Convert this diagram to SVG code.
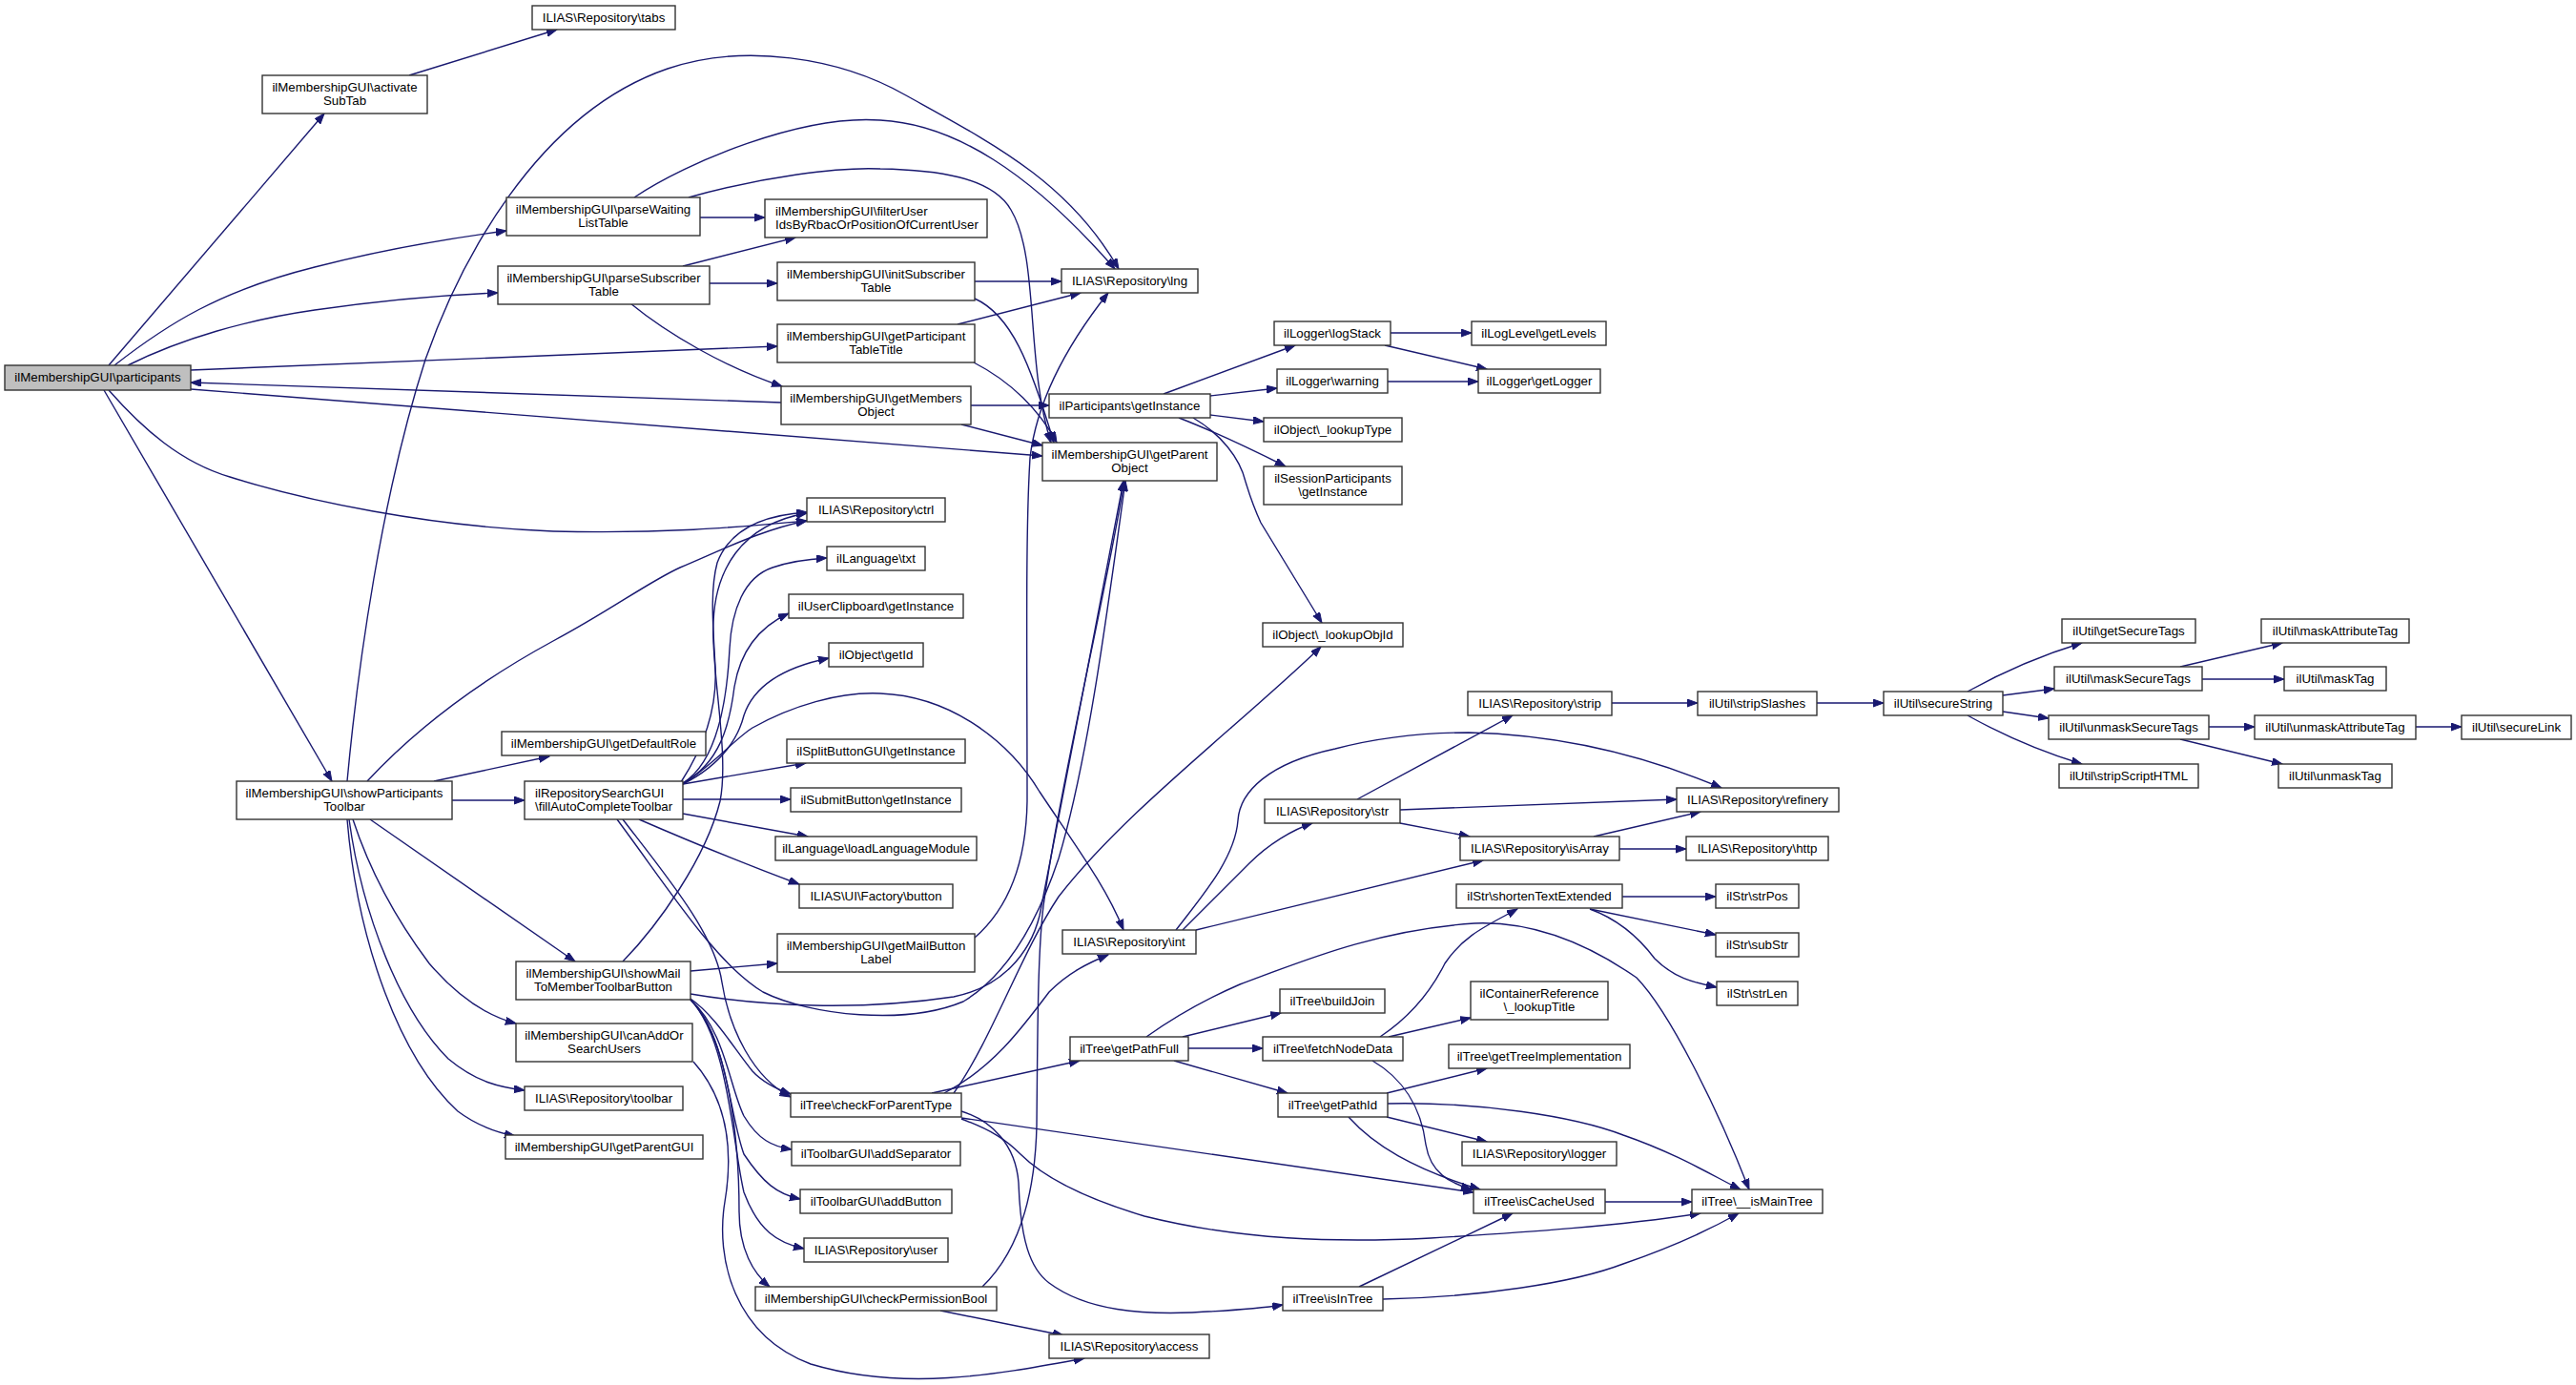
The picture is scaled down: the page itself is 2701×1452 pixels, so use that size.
<svg xmlns="http://www.w3.org/2000/svg" width="2701" height="1452" viewBox="0 0 2701 1452">
<style>
.n rect{fill:#ffffff;stroke:#333333;stroke-width:1.4}
.n.root rect{fill:#bfbfbf}
.n text{font-family:"Liberation Sans",Arial,sans-serif;font-size:13.3px;fill:#000000;text-anchor:middle}
.n text.l{text-anchor:start}
#edges path{fill:none;stroke:#191970;stroke-width:1.4;marker-end:url(#arr)}
</style>
<defs>
<marker id="arr" markerUnits="userSpaceOnUse" markerWidth="12" markerHeight="9" refX="11" refY="4" orient="auto">
<path d="M0,0 L11,4 L0,8 z" fill="#191970" stroke="#191970" stroke-width="1"/>
</marker>
</defs>
<rect x="0" y="0" width="2701" height="1452" fill="#ffffff"/>
<g id="edges">
<path d="M114,383 L340,119"/>
<path d="M429,79 L584,31"/>
<path d="M120,383 C175,340 230,305 330,280 C400,262 470,250 531,242"/>
<path d="M134,383 C190,355 260,335 330,325 C400,315 470,309 522,307"/>
<path d="M200,388 L815,363"/>
<path d="M819,422 L200,401"/>
<path d="M200,408 L1093,478"/>
<path d="M114,409 C150,450 190,485 241,500 C320,525 450,552 580,557 C700,560 780,552 846,546"/>
<path d="M109,409 L348,819"/>
<path d="M364,819 C375,700 400,520 446,377 C480,280 560,120 700,72 C780,45 880,60 950,100 C1040,150 1120,190 1173,282"/>
<path d="M665,207 C720,170 840,120 923,126 C1000,130 1080,180 1169,282"/>
<path d="M734,228 L802,228"/>
<path d="M722,207 C800,185 880,175 923,177 C980,178 1040,185 1060,220 C1090,270 1075,380 1102,464"/>
<path d="M716,279 L834,249"/>
<path d="M744,297 L815,297"/>
<path d="M661,318 C700,350 760,385 820,405"/>
<path d="M1022,295 L1113,295"/>
<path d="M1022,313 C1060,330 1080,380 1105,464"/>
<path d="M1004,340 L1133,307"/>
<path d="M1021,380 C1060,400 1090,430 1108,464"/>
<path d="M1018,425 L1100,425"/>
<path d="M1008,445 L1093,467"/>
<path d="M1220,413 L1358,362"/>
<path d="M1269,415 L1339,407"/>
<path d="M1269,435 L1325,442"/>
<path d="M1236,438 C1280,455 1320,475 1348,489"/>
<path d="M1251,438 C1280,455 1300,480 1306,505 C1312,525 1316,535 1322,548 L1386,653"/>
<path d="M1458,349 L1543,349"/>
<path d="M1452,362 L1559,387"/>
<path d="M1455,400 L1550,400"/>
<path d="M455,819 L576,793"/>
<path d="M474,839 L550,839"/>
<path d="M385,819 C440,760 510,710 580,672 C640,640 680,610 713,595 C760,575 800,555 846,546"/>
<path d="M388,859 L603,1008"/>
<path d="M370,859 C390,920 420,970 450,1010 C480,1045 510,1065 541,1073"/>
<path d="M366,859 C380,960 420,1060 470,1110 C500,1135 525,1140 550,1143"/>
<path d="M364,859 C375,990 420,1110 480,1165 C500,1180 520,1187 540,1191"/>
<path d="M714,820 C740,780 752,740 750,700 C748,660 744,620 752,590 C765,555 800,540 846,537"/>
<path d="M653,1008 C690,970 740,900 755,840 C765,790 745,700 748,652 C750,600 775,550 846,538"/>
<path d="M716,821 C750,800 762,740 765,680 C767,640 780,605 810,595 C830,588 850,586 867,585"/>
<path d="M716,821 C755,800 765,760 770,720 C775,690 790,660 827,643"/>
<path d="M716,822 C760,800 775,770 780,750 C790,720 820,700 869,690"/>
<path d="M716,822 C750,800 770,775 789,763 C830,740 880,725 923,727 C1000,730 1060,780 1090,830 C1130,890 1160,930 1178,975"/>
<path d="M716,822 L845,800"/>
<path d="M716,838 L829,838"/>
<path d="M716,853 L847,877"/>
<path d="M670,859 C700,872 760,898 838,927"/>
<path d="M647,859 C700,930 750,1010 800,1040 C850,1065 950,1075 1010,1050 C1060,1020 1090,960 1110,900 C1140,800 1160,650 1180,504"/>
<path d="M653,859 C700,920 750,980 757,1030 C765,1080 790,1130 829,1150"/>
<path d="M724,1018 L815,1010"/>
<path d="M724,1042 C800,1055 900,1060 1000,1045 C1050,1035 1080,1000 1090,960 C1110,860 1150,650 1178,504"/>
<path d="M724,1047 C750,1065 770,1100 789,1123 C800,1135 815,1142 829,1147"/>
<path d="M724,1048 C760,1080 765,1140 780,1170 C795,1195 810,1202 830,1205"/>
<path d="M724,1048 C762,1085 765,1170 780,1210 C800,1240 815,1252 839,1257"/>
<path d="M724,1048 C764,1090 768,1200 780,1250 C795,1290 815,1303 843,1309"/>
<path d="M724,1048 C765,1090 775,1200 775,1270 C775,1310 790,1335 807,1349"/>
<path d="M727,1113 C760,1150 770,1200 760,1260 C750,1320 770,1400 850,1430 C950,1460 1050,1440 1137,1424"/>
<path d="M1030,1349 C1060,1320 1085,1270 1087,1180 C1088,1080 1088,1000 1094,950 C1110,830 1160,620 1179,504"/>
<path d="M986,1374 L1115,1400"/>
<path d="M1022,983 C1060,950 1076,900 1077,840 C1077,700 1075,560 1080,480 C1087,420 1120,360 1162,307"/>
<path d="M1000,1146 C1040,1090 1070,1000 1110,940 C1180,850 1300,760 1385,678"/>
<path d="M977,1146 L1132,1112"/>
<path d="M990,1146 C1040,1120 1070,1080 1100,1040 C1120,1020 1140,1010 1162,1001"/>
<path d="M1008,1172 L1545,1250"/>
<path d="M1008,1173 C1040,1185 1055,1195 1070,1210 C1100,1240 1150,1260 1200,1275 C1300,1300 1400,1303 1500,1298 C1600,1292 1700,1285 1783,1272"/>
<path d="M1008,1165 C1040,1175 1065,1200 1068,1240 C1070,1300 1080,1330 1100,1345 C1140,1375 1200,1378 1250,1376 C1290,1374 1320,1372 1345,1368"/>
<path d="M1240,1087 L1343,1062"/>
<path d="M1246,1099 L1324,1099"/>
<path d="M1231,1112 L1350,1146"/>
<path d="M1202,1087 C1240,1060 1270,1045 1300,1032 C1360,1010 1440,975 1546,968 C1620,965 1680,1000 1716,1025 C1750,1060 1800,1160 1834,1247"/>
<path d="M1447,1087 C1480,1065 1500,1040 1515,1010 C1535,980 1560,970 1591,953"/>
<path d="M1456,1087 L1542,1067"/>
<path d="M1439,1112 C1470,1130 1490,1160 1495,1200 C1500,1230 1520,1240 1543,1247"/>
<path d="M1454,1146 L1559,1120"/>
<path d="M1455,1157 C1550,1155 1650,1170 1702,1190 C1760,1210 1800,1235 1825,1247"/>
<path d="M1454,1171 L1559,1197"/>
<path d="M1414,1171 C1440,1200 1480,1225 1552,1247"/>
<path d="M1683,1260 L1774,1260"/>
<path d="M1425,1349 L1586,1272"/>
<path d="M1450,1362 C1550,1360 1650,1345 1702,1325 C1760,1305 1800,1285 1823,1272"/>
<path d="M1701,940 L1799,940"/>
<path d="M1667,953 L1799,980"/>
<path d="M1667,953 C1700,965 1720,985 1735,1005 C1755,1025 1775,1030 1800,1035"/>
<path d="M1240,975 C1260,955 1290,925 1310,905 C1330,885 1355,870 1376,863"/>
<path d="M1233,975 C1260,940 1295,900 1298,860 C1300,830 1330,800 1400,785 C1450,772 1500,768 1540,768 C1630,770 1720,790 1805,826"/>
<path d="M1254,975 L1555,902"/>
<path d="M1423,838 L1586,750"/>
<path d="M1468,849 L1758,838"/>
<path d="M1468,863 L1541,877"/>
<path d="M1671,877 L1783,851"/>
<path d="M1698,890 L1768,890"/>
<path d="M1690,737 L1780,737"/>
<path d="M1905,737 L1975,737"/>
<path d="M2063,725 C2090,710 2130,690 2183,674"/>
<path d="M2100,729 L2154,722"/>
<path d="M2100,746 L2148,753"/>
<path d="M2063,750 C2090,765 2130,785 2183,801"/>
<path d="M2286,699 L2393,674"/>
<path d="M2309,712 L2395,712"/>
<path d="M2316,762 L2364,762"/>
<path d="M2286,775 L2393,801"/>
<path d="M2533,762 L2581,762"/>
</g>
<g id="participants" class="n root"><rect x="5" y="383" width="195" height="26"/><text x="102.5" y="400">ilMembershipGUI\participants</text></g>
<g id="activateSubTab" class="n"><rect x="275" y="79" width="173" height="40"/><text x="361.5" y="96">ilMembershipGUI\activate</text><text x="361.5" y="110">SubTab</text></g>
<g id="tabs" class="n"><rect x="558" y="6" width="150" height="25"/><text x="633" y="23">ILIAS\Repository\tabs</text></g>
<g id="parseWaitingListTable" class="n"><rect x="531" y="207" width="203" height="40"/><text x="632.5" y="224">ilMembershipGUI\parseWaiting</text><text x="632.5" y="238">ListTable</text></g>
<g id="parseSubscriberTable" class="n"><rect x="522" y="279" width="222" height="40"/><text x="633" y="296">ilMembershipGUI\parseSubscriber</text><text x="633" y="310">Table</text></g>
<g id="filterUser" class="n"><rect x="802" y="209" width="233" height="40"/><text class="l" x="813" y="226">ilMembershipGUI\filterUser</text><text class="l" x="813" y="240">IdsByRbacOrPositionOfCurrentUser</text></g>
<g id="initSubscriberTable" class="n"><rect x="815" y="275" width="207" height="40"/><text x="918.5" y="292">ilMembershipGUI\initSubscriber</text><text x="918.5" y="306">Table</text></g>
<g id="lng" class="n"><rect x="1113" y="282" width="143" height="25"/><text x="1184.5" y="299">ILIAS\Repository\lng</text></g>
<g id="getParticipantTableTitle" class="n"><rect x="815" y="340" width="207" height="40"/><text x="918.5" y="357">ilMembershipGUI\getParticipant</text><text x="918.5" y="371">TableTitle</text></g>
<g id="getMembersObject" class="n"><rect x="819" y="405" width="199" height="40"/><text x="918.5" y="422">ilMembershipGUI\getMembers</text><text x="918.5" y="436">Object</text></g>
<g id="participantsGetInstance" class="n"><rect x="1100" y="413" width="169" height="25"/><text x="1184.5" y="430">ilParticipants\getInstance</text></g>
<g id="getParentObject" class="n"><rect x="1093" y="464" width="183" height="40"/><text x="1184.5" y="481">ilMembershipGUI\getParent</text><text x="1184.5" y="495">Object</text></g>
<g id="logStack" class="n"><rect x="1336" y="337" width="122" height="25"/><text x="1397" y="354">ilLogger\logStack</text></g>
<g id="warning" class="n"><rect x="1339" y="387" width="116" height="25"/><text x="1397" y="404">ilLogger\warning</text></g>
<g id="lookupType" class="n"><rect x="1325" y="438" width="145" height="25"/><text x="1397.5" y="455">ilObject\_lookupType</text></g>
<g id="sessionParticipants" class="n"><rect x="1325" y="489" width="145" height="40"/><text x="1397.5" y="506">ilSessionParticipants</text><text x="1397.5" y="520">\getInstance</text></g>
<g id="getLevels" class="n"><rect x="1543" y="337" width="141" height="25"/><text x="1613.5" y="354">ilLogLevel\getLevels</text></g>
<g id="getLogger" class="n"><rect x="1550" y="387" width="128" height="25"/><text x="1614" y="404">ilLogger\getLogger</text></g>
<g id="lookupObjId" class="n"><rect x="1324" y="653" width="147" height="25"/><text x="1397.5" y="670">ilObject\_lookupObjId</text></g>
<g id="ctrl" class="n"><rect x="846" y="522" width="145" height="25"/><text x="918.5" y="539">ILIAS\Repository\ctrl</text></g>
<g id="txt" class="n"><rect x="867" y="573" width="103" height="25"/><text x="918.5" y="590">ilLanguage\txt</text></g>
<g id="userClipboard" class="n"><rect x="827" y="623" width="183" height="25"/><text x="918.5" y="640">ilUserClipboard\getInstance</text></g>
<g id="getId" class="n"><rect x="869" y="674" width="99" height="25"/><text x="918.5" y="691">ilObject\getId</text></g>
<g id="getDefaultRole" class="n"><rect x="526" y="767" width="214" height="25"/><text x="633" y="784">ilMembershipGUI\getDefaultRole</text></g>
<g id="showParticipantsToolbar" class="n"><rect x="248" y="819" width="226" height="40"/><text x="361" y="836">ilMembershipGUI\showParticipants</text><text x="361" y="850">Toolbar</text></g>
<g id="fillAutoCompleteToolbar" class="n"><rect x="550" y="819" width="166" height="40"/><text class="l" x="561" y="836">ilRepositorySearchGUI</text><text class="l" x="561" y="850">\fillAutoCompleteToolbar</text></g>
<g id="splitButton" class="n"><rect x="825" y="775" width="187" height="25"/><text x="918.5" y="792">ilSplitButtonGUI\getInstance</text></g>
<g id="submitButton" class="n"><rect x="829" y="826" width="179" height="25"/><text x="918.5" y="843">ilSubmitButton\getInstance</text></g>
<g id="loadLanguageModule" class="n"><rect x="813" y="877" width="211" height="25"/><text x="918.5" y="894">ilLanguage\loadLanguageModule</text></g>
<g id="factoryButton" class="n"><rect x="838" y="927" width="161" height="25"/><text x="918.5" y="944">ILIAS\UI\Factory\button</text></g>
<g id="int" class="n"><rect x="1114" y="975" width="140" height="25"/><text x="1184" y="992">ILIAS\Repository\int</text></g>
<g id="showMail" class="n"><rect x="541" y="1008" width="183" height="40"/><text x="632.5" y="1025">ilMembershipGUI\showMail</text><text x="632.5" y="1039">ToMemberToolbarButton</text></g>
<g id="getMailButtonLabel" class="n"><rect x="815" y="979" width="207" height="40"/><text x="918.5" y="996">ilMembershipGUI\getMailButton</text><text x="918.5" y="1010">Label</text></g>
<g id="canAdd" class="n"><rect x="541" y="1073" width="185" height="40"/><text x="633.5" y="1090">ilMembershipGUI\canAddOr</text><text x="633.5" y="1104">SearchUsers</text></g>
<g id="toolbar" class="n"><rect x="550" y="1139" width="166" height="25"/><text x="633" y="1156">ILIAS\Repository\toolbar</text></g>
<g id="getParentGUI" class="n"><rect x="530" y="1190" width="207" height="25"/><text x="633.5" y="1207">ilMembershipGUI\getParentGUI</text></g>
<g id="checkForParentType" class="n"><rect x="829" y="1146" width="179" height="25"/><text x="918.5" y="1163">ilTree\checkForParentType</text></g>
<g id="addSeparator" class="n"><rect x="830" y="1197" width="177" height="25"/><text x="918.5" y="1214">ilToolbarGUI\addSeparator</text></g>
<g id="addButton" class="n"><rect x="839" y="1247" width="159" height="25"/><text x="918.5" y="1264">ilToolbarGUI\addButton</text></g>
<g id="user" class="n"><rect x="843" y="1298" width="151" height="25"/><text x="918.5" y="1315">ILIAS\Repository\user</text></g>
<g id="checkPermissionBool" class="n"><rect x="792" y="1349" width="253" height="25"/><text x="918.5" y="1366">ilMembershipGUI\checkPermissionBool</text></g>
<g id="access" class="n"><rect x="1100" y="1399" width="168" height="25"/><text x="1184" y="1416">ILIAS\Repository\access</text></g>
<g id="getPathFull" class="n"><rect x="1122" y="1087" width="124" height="25"/><text x="1184" y="1104">ilTree\getPathFull</text></g>
<g id="buildJoin" class="n"><rect x="1342" y="1037" width="110" height="25"/><text x="1397" y="1054">ilTree\buildJoin</text></g>
<g id="fetchNodeData" class="n"><rect x="1324" y="1087" width="147" height="25"/><text x="1397.5" y="1104">ilTree\fetchNodeData</text></g>
<g id="getPathId" class="n"><rect x="1340" y="1146" width="115" height="25"/><text x="1397.5" y="1163">ilTree\getPathId</text></g>
<g id="isInTree" class="n"><rect x="1345" y="1349" width="105" height="25"/><text x="1397.5" y="1366">ilTree\isInTree</text></g>
<g id="lookupTitle" class="n"><rect x="1542" y="1029" width="144" height="40"/><text x="1614" y="1046">ilContainerReference</text><text x="1614" y="1060">\_lookupTitle</text></g>
<g id="getTreeImplementation" class="n"><rect x="1519" y="1095" width="190" height="25"/><text x="1614" y="1112">ilTree\getTreeImplementation</text></g>
<g id="logger" class="n"><rect x="1533" y="1197" width="162" height="25"/><text x="1614" y="1214">ILIAS\Repository\logger</text></g>
<g id="isCacheUsed" class="n"><rect x="1545" y="1247" width="138" height="25"/><text x="1614" y="1264">ilTree\isCacheUsed</text></g>
<g id="isMainTree" class="n"><rect x="1774" y="1247" width="137" height="25"/><text x="1842.5" y="1264">ilTree\__isMainTree</text></g>
<g id="shortenTextExtended" class="n"><rect x="1527" y="927" width="174" height="25"/><text x="1614" y="944">ilStr\shortenTextExtended</text></g>
<g id="strPos" class="n"><rect x="1799" y="927" width="87" height="25"/><text x="1842.5" y="944">ilStr\strPos</text></g>
<g id="subStr" class="n"><rect x="1799" y="978" width="87" height="25"/><text x="1842.5" y="995">ilStr\subStr</text></g>
<g id="strLen" class="n"><rect x="1800" y="1029" width="85" height="25"/><text x="1842.5" y="1046">ilStr\strLen</text></g>
<g id="str" class="n"><rect x="1326" y="838" width="142" height="25"/><text x="1397" y="855">ILIAS\Repository\str</text></g>
<g id="strip" class="n"><rect x="1539" y="725" width="151" height="25"/><text x="1614.5" y="742">ILIAS\Repository\strip</text></g>
<g id="refinery" class="n"><rect x="1758" y="826" width="170" height="25"/><text x="1843" y="843">ILIAS\Repository\refinery</text></g>
<g id="isArray" class="n"><rect x="1531" y="877" width="167" height="25"/><text x="1614.5" y="894">ILIAS\Repository\isArray</text></g>
<g id="http" class="n"><rect x="1768" y="877" width="149" height="25"/><text x="1842.5" y="894">ILIAS\Repository\http</text></g>
<g id="stripSlashes" class="n"><rect x="1780" y="725" width="125" height="25"/><text x="1842.5" y="742">ilUtil\stripSlashes</text></g>
<g id="secureString" class="n"><rect x="1975" y="725" width="125" height="25"/><text x="2037.5" y="742">ilUtil\secureString</text></g>
<g id="getSecureTags" class="n"><rect x="2162" y="649" width="140" height="25"/><text x="2232" y="666">ilUtil\getSecureTags</text></g>
<g id="maskSecureTags" class="n"><rect x="2154" y="699" width="155" height="25"/><text x="2231.5" y="716">ilUtil\maskSecureTags</text></g>
<g id="unmaskSecureTags" class="n"><rect x="2148" y="750" width="168" height="25"/><text x="2232" y="767">ilUtil\unmaskSecureTags</text></g>
<g id="stripScriptHTML" class="n"><rect x="2159" y="801" width="146" height="25"/><text x="2232" y="818">ilUtil\stripScriptHTML</text></g>
<g id="maskAttributeTag" class="n"><rect x="2371" y="649" width="155" height="25"/><text x="2448.5" y="666">ilUtil\maskAttributeTag</text></g>
<g id="maskTag" class="n"><rect x="2395" y="699" width="107" height="25"/><text x="2448.5" y="716">ilUtil\maskTag</text></g>
<g id="unmaskAttributeTag" class="n"><rect x="2364" y="750" width="169" height="25"/><text x="2448.5" y="767">ilUtil\unmaskAttributeTag</text></g>
<g id="unmaskTag" class="n"><rect x="2389" y="801" width="119" height="25"/><text x="2448.5" y="818">ilUtil\unmaskTag</text></g>
<g id="secureLink" class="n"><rect x="2581" y="750" width="115" height="25"/><text x="2638.5" y="767">ilUtil\secureLink</text></g>
</svg>
